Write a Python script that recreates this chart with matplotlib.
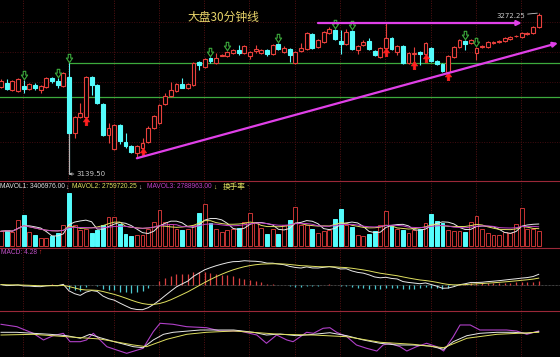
import numpy as np
import pandas as pd
import matplotlib
matplotlib.use('Agg')
import matplotlib.pyplot as plt
from matplotlib.path import Path

# 30分钟K线 (open, high, low, close)
opens = [3211.5, 3214.8, 3208.8, 3208.2, 3212.1, 3209.3, 3212.9, 3208.8, 3211.5, 3218.7,
         3216.2, 3212.3, 3219.7, 3173.1, 3186.3, 3186.8, 3219.2, 3212.9, 3197.2, 3171.7,
         3159.9, 3179.9, 3166.1, 3162.6, 3156.6, 3160.9, 3165.6, 3177.2, 3181.3, 3197.2,
         3203.8, 3207.9, 3213.5, 3210.4, 3212.9, 3232.1, 3228.0, 3235.4, 3230.8, 3237.2,
         3236.8, 3239.0, 3241.7, 3239.0, 3236.8, 3240.9, 3239.5, 3241.7, 3238.2, 3246.4,
         3240.3, 3242.3, 3230.8, 3241.2, 3242.3, 3254.9, 3244.0, 3248.6, 3255.5, 3258.2,
         3249.2, 3246.4, 3257.4, 3241.7, 3245.9, 3249.2, 3241.2, 3236.2, 3243.6, 3251.4,
         3240.3, 3245.0, 3230.8, 3238.2, 3239.8, 3238.2, 3243.6, 3232.7, 3229.9, 3223.9,
         3236.2, 3244.5, 3249.4, 3247.3, 3239.5, 3244.0, 3244.5, 3247.3, 3248.1, 3249.4,
         3250.8, 3252.9, 3252.2, 3254.7, 3255.5, 3261.0]
highs = [3217.8, 3217.8, 3217.0, 3218.7, 3217.0, 3214.3, 3214.3, 3213.0, 3219.2, 3219.7,
         3218.4, 3223.3, 3230.8, 3187.6, 3198.0, 3220.0, 3220.0, 3213.7, 3198.0, 3181.6,
         3180.7, 3180.7, 3173.3, 3163.4, 3163.4, 3169.2, 3179.1, 3188.4, 3197.2, 3206.5,
         3215.6, 3214.3, 3218.7, 3214.6, 3232.1, 3232.9, 3235.1, 3236.2, 3239.0, 3238.4,
         3241.1, 3242.5, 3245.9, 3245.9, 3241.1, 3245.9, 3242.5, 3242.5, 3246.7, 3247.2,
         3245.0, 3243.1, 3241.1, 3247.3, 3256.3, 3255.7, 3250.8, 3257.1, 3260.5, 3259.0,
         3258.2, 3259.1, 3258.2, 3246.1, 3250.0, 3251.4, 3242.0, 3244.4, 3263.8, 3252.2,
         3245.8, 3245.8, 3239.8, 3244.5, 3240.6, 3248.1, 3244.4, 3233.5, 3230.7, 3237.6,
         3245.3, 3250.8, 3250.2, 3250.8, 3244.0, 3245.8, 3249.0, 3249.0, 3250.2, 3252.2,
         3253.5, 3254.4, 3256.3, 3256.8, 3261.3, 3272.25]
lows = [3210.4, 3208.8, 3208.0, 3207.5, 3206.0, 3208.5, 3208.8, 3206.5, 3210.8, 3214.3,
        3210.2, 3211.6, 3139.5, 3169.2, 3185.5, 3186.0, 3204.6, 3197.0, 3170.9, 3165.1,
        3159.1, 3164.2, 3160.9, 3157.1, 3152.5, 3160.1, 3164.8, 3176.4, 3180.5, 3196.4,
        3203.0, 3207.1, 3210.4, 3209.6, 3212.1, 3225.3, 3227.2, 3230.8, 3230.0, 3236.5,
        3236.0, 3238.2, 3237.6, 3238.2, 3234.1, 3239.3, 3238.7, 3236.8, 3237.4, 3241.5,
        3239.0, 3232.1, 3230.0, 3240.4, 3241.5, 3242.8, 3243.2, 3247.8, 3254.7, 3249.8,
        3238.5, 3245.6, 3241.5, 3238.5, 3245.1, 3241.5, 3236.8, 3235.4, 3242.8, 3241.5,
        3237.6, 3230.5, 3230.0, 3232.1, 3229.4, 3237.4, 3231.9, 3229.4, 3223.6, 3222.7,
        3235.4, 3243.7, 3241.7, 3246.5, 3233.5, 3243.2, 3243.7, 3246.5, 3247.3, 3248.6,
        3250.0, 3252.1, 3251.4, 3253.9, 3254.7, 3260.2]
closes = [3216.4, 3209.6, 3216.4, 3217.6, 3209.3, 3213.5, 3210.7, 3212.3, 3218.4, 3216.2,
          3212.9, 3222.5, 3173.1, 3186.8, 3190.1, 3219.2, 3212.9, 3197.8, 3171.7, 3177.2,
          3179.9, 3167.0, 3162.6, 3157.9, 3162.6, 3165.1, 3177.4, 3187.6, 3196.4, 3203.8,
          3208.8, 3213.5, 3210.7, 3213.8, 3231.3, 3229.4, 3234.3, 3232.7, 3235.4, 3237.7,
          3240.3, 3241.7, 3239.0, 3245.0, 3240.3, 3242.6, 3241.7, 3238.2, 3245.9, 3242.3,
          3243.2, 3237.6, 3240.3, 3243.6, 3255.5, 3243.6, 3250.0, 3256.3, 3258.8, 3250.6,
          3246.4, 3256.8, 3242.3, 3245.3, 3248.6, 3242.3, 3237.6, 3243.6, 3251.9, 3242.3,
          3245.0, 3231.3, 3239.0, 3239.5, 3238.5, 3247.3, 3232.7, 3230.2, 3224.4, 3236.8,
          3244.5, 3250.0, 3246.4, 3250.0, 3243.2, 3245.0, 3248.1, 3248.1, 3249.4, 3251.4,
          3252.7, 3253.6, 3255.5, 3256.0, 3260.5, 3270.6]
# 成交量 (百万)
volumes = [2.33, 2.48, 2.22, 4.03, 4.91, 2.22, 1.71, 1.29, 1.29, 1.60,
           2.12, 3.36, 8.32, 3.36, 2.48, 2.74, 2.12, 2.58, 3.36, 4.55,
           4.55, 3.41, 1.96, 1.60, 1.81, 1.81, 2.74, 3.77, 5.68, 3.77,
           3.51, 2.74, 2.48, 2.74, 3.26, 5.22, 6.61, 3.67, 2.74, 2.22,
           2.48, 2.74, 2.84, 3.77, 5.22, 3.77, 2.84, 1.96, 2.74, 1.86,
           3.26, 4.03, 6.10, 3.26, 3.26, 2.74, 2.12, 2.33, 2.48, 4.19,
           5.84, 3.26, 3.00, 1.81, 1.55, 1.96, 2.33, 3.26, 5.48, 3.15,
           2.64, 2.48, 2.07, 2.48, 2.74, 3.62, 5.06, 3.88, 3.62, 2.48,
           2.33, 2.33, 2.22, 3.77, 4.65, 2.74, 2.12, 1.81, 1.81, 2.22,
           2.12, 3.51, 5.94, 2.74, 2.74, 2.33]
# 副图指标 (读图取点: 位置, 数值0-100)
osc1_x = [0, 2.8, 5.7, 7.5, 9.2, 11, 12.2, 14, 15.1, 16.3, 18.7, 22.2, 25.1, 26.9, 28.1,
          30.4, 32.8, 36.3, 38.7, 42.2, 45.2, 46.9, 48.7, 50.5, 51.6, 54, 55.2, 56.9, 58.1,
          59.3, 61.1, 62.8, 64.6, 66.4, 67.5, 68.7, 70.5, 71.7, 73.4, 75.2, 77, 78.2, 79.9,
          81.1, 82.9, 84.6, 87, 89.3, 91.1, 92.9, 95]
osc1_y = [71.1, 65.9, 51.5, 37.0, 46.3, 51.5, 33.3, 33.3, 37.0, 51.5, 22.4, 8.0, 18.9, 55.0, 73.3,
          71.1, 65.9, 63.7, 56.5, 56.5, 47.8, 29.8, 47.8, 37.0, 33.3, 53.7, 51.5, 62.4, 63.7,
          53.7, 44.1, 26.1, 18.9, 13.0, 26.1, 29.8, 22.4, 13.0, 22.4, 29.8, 22.4, 13.0, 44.1,
          69.6, 69.6, 58.7, 58.7, 58.7, 56.5, 49.3, 56.5]
osc2_x = [0, 2.8, 5.7, 8.7, 11.6, 14, 15.7, 17.5, 20.4, 23.4, 25.1, 26.9, 28.7, 30.4, 35.2,
          41.1, 44.6, 46.9, 49.3, 52.2, 55.2, 58.1, 61.1, 64, 67, 69.9, 72.8, 75.8, 78.2,
          79.9, 82.3, 84.6, 87.6, 90.5, 92.9, 95]
osc2_y = [53.7, 53.7, 51.5, 49.3, 46.3, 40.7, 49.3, 42.0, 32.0, 22.4, 20.2, 37.0, 49.3, 53.7, 58.7,
          58.7, 53.7, 47.8, 50.0, 46.3, 49.3, 52.8, 46.3, 37.0, 29.8, 26.1, 26.1, 23.9, 16.7,
          33.3, 46.3, 51.5, 53.7, 53.7, 51.5, 55.0]
osc3_x = [0, 5.7, 11.6, 17.5, 23.4, 25.7, 29.3, 32.8, 36.3, 41.1, 46.9, 49.3, 55.2, 61.1,
          67, 72.8, 78.2, 82.3, 87.6, 95]
osc3_y = [47.8, 49.3, 44.1, 39.1, 26.1, 22.4, 38.5, 49.3, 53.7, 56.5, 51.5, 49.3, 47.8, 44.1,
          32.0, 27.6, 20.2, 40.7, 49.3, 53.7]
sell_idx = [4, 10, 12, 37, 40, 49, 59, 62, 82, 84]
buy_idx = [15, 25, 68, 73, 75, 79]
low_mark = 3139.50
high_mark = 3272.25
support_upper = 3230.8
support_lower = 3203.0
grid_prices = [3264.6, 3239.9, 3215.1, 3190.4, 3165.6]
day_lines = [3.9, 11.9, 19.9, 27.9, 35.9, 43.9, 51.9, 59.9, 67.9, 75.9, 83.9, 91.9]
trend_h_x = [56, 92]
trend_h_y = [3264.0, 3264.0]
trend_d_x = [24, 98.4]
trend_d_y = [3152.5, 3247.5]

W, H = 560, 357
RED = '#e8403c'
CYAN = '#54fcfc'
GRID = '#561214'
SEP = '#9a2838'
MAG = '#e040e8'
GREEN = '#3caa3c'
SMALL = ['Liberation Sans', 'DejaVu Sans']
CJK = ['Noto Sans CJK SC', 'DejaVu Sans']

o = np.array(opens)
h = np.array(highs)
l = np.array(lows)
c = np.array(closes)
v = np.array(volumes)
x = np.arange(len(c))
up = c >= o

fig = plt.figure(figsize=(W / 100, H / 100), dpi=100, facecolor='black')


def panel(top, bottom):
    ax = fig.add_axes([0, 1 - bottom / H, 1, (bottom - top) / H])
    ax.set_facecolor('black')
    ax.set_xlim(-0.18, 98.76)
    ax.axis('off')
    for d in day_lines:
        ax.axvline(d, color=GRID, lw=0.7, ls=(0, (1, 1.5)), zorder=0)
    return ax


def ftext(px, py, s, **kw):
    fig.text(px / W, 1 - py / H, s, va='center', **kw)


# ---- 主图 ----
ax = panel(0, 181)
ax.set_ylim(3133.74, 3282.97)
for g in grid_prices:
    ax.axhline(g, color='#420c10', lw=0.7, ls=(0, (1, 1.5)), zorder=0)
ax.plot([12, 98.76], [support_upper, support_upper], color=GREEN, lw=0.9, zorder=1)
ax.axhline(support_lower, color=GREEN, lw=0.9, zorder=1)

wick_col = np.where(up, RED, CYAN)
ax.vlines(x, l, h, colors=wick_col, lw=0.8, zorder=2)
body = np.maximum(np.abs(c - o), 0.6)
ax.bar(x, body, bottom=np.minimum(o, c), width=0.68,
       facecolor=np.where(up, 'black', CYAN), edgecolor=wick_col, lw=0.8, zorder=3)

i_hi = int(np.argmax(h))
i_lo = int(np.argmin(l))
# 最低价引线
ax.vlines(i_lo, l[i_lo], min(o[i_lo], c[i_lo]), colors='#b4b4b4', lw=0.8, zorder=2.5)

down_arrow = Path([(-0.3, 1), (0.3, 1), (0.3, 0.1), (0.75, 0.1), (0, -1),
                   (-0.75, 0.1), (-0.3, 0.1), (-0.3, 1)], closed=True)
up_arrow = Path([(px, -py) for px, py in down_arrow.vertices], closed=True)
ax.plot(x[sell_idx], h[sell_idx] + 4.2, ls='none', marker=down_arrow, ms=6,
        mfc='black', mec=GREEN, mew=0.8, zorder=5)
ax.plot(x[buy_idx], l[buy_idx] - 2.5, ls='none', marker=up_arrow, ms=6,
        mfc='#ff2020', mec='#ff2020', mew=0.5, zorder=5)

for tx, ty in ((trend_h_x, trend_h_y), (trend_d_x, trend_d_y)):
    ax.annotate('', xy=(tx[1], ty[1]), xytext=(tx[0], ty[0]),
                arrowprops=dict(arrowstyle='-|>', color=MAG, lw=1.6,
                                mutation_scale=7, shrinkA=0, shrinkB=0), zorder=6)

ax.annotate('%.2f' % high_mark, xy=(i_hi, high_mark), xytext=(-10, -2),
            textcoords='offset points', ha='right', va='center', color='#c8c8c8',
            fontsize=5, arrowprops=dict(arrowstyle='-', color='#c8c8c8', lw=0.6,
                                        shrinkA=0, shrinkB=1))
ax.annotate('%.2f' % low_mark, xy=(i_lo, low_mark), xytext=(5.5, 0),
            textcoords='offset points', ha='left', va='center', color='#c8c8c8',
            fontsize=5, arrowprops=dict(arrowstyle='->', color='#c8c8c8', lw=0.6,
                                        shrinkA=0, shrinkB=0, mutation_scale=4))
ax.text(33, 3269.0, '大盘30分钟线', family=CJK, fontsize=8.5, color='#e8d46a', va='center')

# ---- 成交量 ----
axv = panel(181, 247)
axv.set_ylim(-0.1, 10.1)
axv.bar(x, v, width=0.68, facecolor=np.where(up, 'black', CYAN),
        edgecolor=np.where(up, '#c83434', CYAN), lw=0.7, zorder=2)
vs = pd.Series(v)
axv.plot(x, vs.rolling(5, min_periods=1).mean(), color='#e8e8e8', lw=0.7, zorder=3)
axv.plot(x, vs.rolling(10, min_periods=1).mean(), color='#e0e060', lw=0.7, zorder=3)
axv.plot(x, vs.rolling(20, min_periods=1).mean(), color='#c040c8', lw=0.7, zorder=3)

# ---- MACD ----
axm = panel(247, 311)
cs = pd.Series(c)
dif = cs.ewm(span=12, adjust=False).mean() - cs.ewm(span=26, adjust=False).mean()
dea = dif.ewm(span=9, adjust=False).mean()
hist = dif - dea
s = max(-dif.min() / 25, dif.max() / 26)
axm.set_ylim(-26.3 * s, 37.4 * s)
axm.axhline(0, color='#808080', lw=0.5, ls=(0, (1, 1)), zorder=1)
axm.vlines(x, 0, hist, colors=np.where(hist >= 0, '#d84040', '#4cc8d0'), lw=0.9, zorder=2)
axm.plot(x, dif, color='#e8e8e8', lw=0.7, zorder=3)
axm.plot(x, dea, color='#e0e060', lw=0.7, zorder=3)

# ---- 副图 ----
axr = panel(311, 357)
axr.set_ylim(0, 100)
axr.plot(osc1_x, osc1_y, color='#b040c8', lw=0.8, zorder=3)
axr.plot(osc2_x, osc2_y, color='#e8e8e8', lw=0.7, zorder=3)
axr.plot(osc3_x, osc3_y, color='#e0e060', lw=0.7, zorder=3)

# 分隔线
for yy in (181, 247.5, 311):
    fig.add_artist(plt.Line2D([0, 1], [1 - yy / H] * 2, color=SEP, lw=0.8))

# 指标标题
ftext(0, 187, 'MAVOL1: 3406976.00', family=SMALL, fontsize=4.8, color='#e0e0e0')
ftext(65.5, 187, '↓', family=SMALL, fontsize=4.8, color='#e0e0e0')
ftext(72, 187, 'MAVOL2: 2759720.25', family=SMALL, fontsize=4.8, color='#e0e060')
ftext(138, 187, '↓', family=SMALL, fontsize=4.8, color='#e0e0e0')
ftext(147, 187, 'MAVOL3: 2788963.00', family=SMALL, fontsize=4.8, color='#c040c8')
ftext(213, 187, '↓', family=SMALL, fontsize=4.8, color='#e0e060')
ftext(223, 187, '换手率', family=CJK, fontsize=5.5, color='#e0e060')
ftext(246, 187, '·', family=SMALL, fontsize=4.8, color='#e0e060')
ftext(1, 252, 'MACD: 4.28', family=SMALL, fontsize=4.8, color='#c050c8')
ftext(38, 252, '↑', family=SMALL, fontsize=4.8, color='#ff3030')

fig.savefig('out.png', dpi=100, facecolor='black')
